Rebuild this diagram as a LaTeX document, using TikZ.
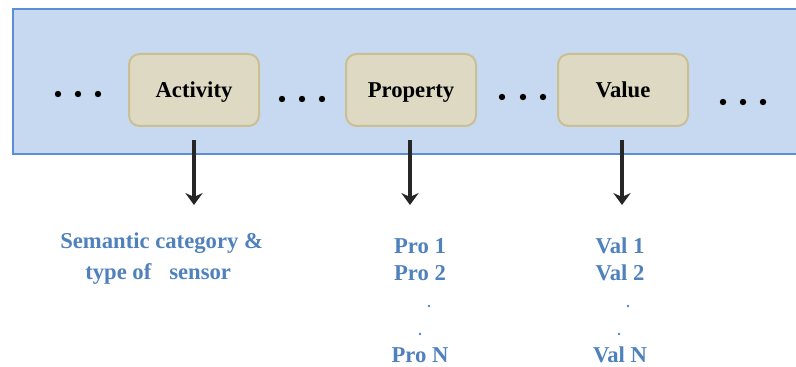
\documentclass[tikz,border=0pt]{standalone}
\usepackage{fontspec}
\setmainfont{Liberation Serif}
\usetikzlibrary{arrows.meta}
\definecolor{bandfill}{HTML}{C6D9F1}
\definecolor{bandline}{HTML}{5B8ED3}
\definecolor{boxfill}{HTML}{DDD9C3}
\definecolor{boxline}{HTML}{C9BF92}
\definecolor{labelblue}{HTML}{4F81BD}
\definecolor{arrowgray}{HTML}{262626}
\tikzset{
  termbox/.style={draw=boxline, line width=1.5pt, fill=boxfill, rounded corners=8pt,
    minimum width=97.5pt, minimum height=54pt, inner sep=0pt,
    text height=15pt, text depth=3pt,
    font=\fontsize{17}{20}\selectfont\bfseries},
  dotmark/.style={fill=black, circle, inner sep=0pt, minimum size=4.8pt},
  smalldot/.style={fill=labelblue, circle, inner sep=0pt, minimum size=2pt},
  downarrow/.style={draw=arrowgray, line width=2.6pt,
    -{Stealth[length=9pt,width=13pt,inset=3pt]}, shorten <=9.75pt},
  bluetext/.style={text=labelblue, font=\fontsize{17}{20}\selectfont\bfseries, inner sep=0pt}
}
\begin{document}
\begin{tikzpicture}[x=0.75pt,y=-0.75pt]
  \useasboundingbox (0,0) rectangle (796,367);
  % band holding the sequence
  \path[fill=bandfill] (13,9) rectangle (800,154);
  \draw[bandline, line width=1.5pt] (800,9) -- (13,9) -- (13,154) -- (800,154);

  % terms of the sequence
  \node[termbox] (act) at (194,90) {Activity};
  \node[termbox] (prop) at (411,90) {Property};
  \node[termbox] (val) at (623,90) {Value};

  % ellipses between the terms
  \foreach \x [count=\i] in {58,78,98} \node[dotmark] (da\i) at (\x,94) {};
  \foreach \x [count=\i] in {282,302,322} \node[dotmark] (db\i) at (\x,99) {};
  \foreach \x [count=\i] in {502,523,543} \node[dotmark] (dc\i) at (\x,97) {};
  \foreach \x [count=\i] in {723,743,763} \node[dotmark] (dd\i) at (\x,102) {};

  % arrow ends
  \coordinate (actEnd) at (194,205);
  \coordinate (propEnd) at (410,205);
  \coordinate (valEnd) at (622,205);
  \draw[downarrow] (act.south -| actEnd) -- (actEnd);
  \draw[downarrow] (prop.south -| propEnd) -- (propEnd);
  \draw[downarrow] (val.south -| valEnd) -- (valEnd);

  % descriptions
  \node[bluetext, anchor=base west] (sem1) at (60,248) {Semantic category \&};
  \node[bluetext, anchor=base west] (sem2) at (85,279) {type of\hspace{13.5pt}sensor};

  \node[bluetext, anchor=base] (pro1) at (420,253) {Pro 1};
  \node[bluetext, anchor=base] (pro2) at (420,280) {Pro 2};
  \node[smalldot] (pdot1) at (429,306) {};
  \node[smalldot] (pdot2) at (420,334) {};
  \node[bluetext, anchor=base] (proN) at (420,362) {Pro N};

  \node[bluetext, anchor=base] (val1) at (620,253) {Val 1};
  \node[bluetext, anchor=base] (val2) at (620,280) {Val 2};
  \node[smalldot] (vdot1) at (628,306) {};
  \node[smalldot] (vdot2) at (619,334) {};
  \node[bluetext, anchor=base] (valN) at (620,362) {Val N};
\end{tikzpicture}
\end{document}
